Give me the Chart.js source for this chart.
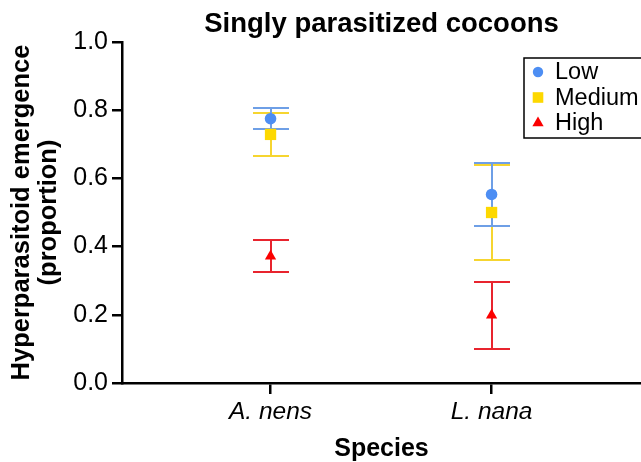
<!DOCTYPE html>
<html>
<head>
<meta charset="utf-8">
<script src="https://cdn.jsdelivr.net/npm/chart.js@4.4.1/dist/chart.umd.min.js"></script>
<style>
  html, body { margin: 0; padding: 0; background: #fff; }
</style>
</head>
<body>
<canvas id="chart" width="641" height="462"></canvas>
<script>
// values (mean and +/- error)
const species = ['A. nens', 'L. nana'];
const lowMean = [0.775, 0.553];
const lowErr = [0.030, 0.093];
const medMean = [0.729, 0.500];
const medErr = [0.064, 0.140];
const highMean = [0.372, 0.199];
const highErr = [0.047, 0.098];

const FONT = "'Liberation Sans', Arial, Helvetica, sans-serif";
Chart.defaults.font.family = FONT;
Chart.defaults.color = '#000';

const toPoints = arr => arr.map((v, i) => ({ x: i, y: v }));

// draws symmetric error bars behind the markers
const errorBars = {
  id: 'errorBars',
  beforeDatasetsDraw(chart, args, opts) {
    const { ctx, scales: { x, y } } = chart;
    ctx.save();
    ctx.lineWidth = 2;
    const half = opts.capWidth / 2;
    // last dataset first so "Low" bars sit on top
    for (let i = chart.data.datasets.length - 1; i >= 0; i--) {
      const ds = chart.data.datasets[i];
      ctx.strokeStyle = ds.errorColor;
      ds.data.forEach((p, j) => {
        const e = ds.errors[j];
        const px = Math.round(x.getPixelForValue(p.x));
        const top = Math.round(y.getPixelForValue(p.y + e));
        const bot = Math.round(y.getPixelForValue(p.y - e));
        ctx.beginPath();
        ctx.moveTo(px, top); ctx.lineTo(px, bot);
        ctx.moveTo(px - half, top); ctx.lineTo(px + half, top);
        ctx.moveTo(px - half, bot); ctx.lineTo(px + half, bot);
        ctx.stroke();
      });
    }
    ctx.restore();
  }
};

function marker(ctx, style, x, y, r) {
  ctx.beginPath();
  if (style === 'circle') {
    ctx.arc(x, y, r, 0, Math.PI * 2);
  } else if (style === 'rect') {
    const s = r * Math.SQRT1_2;
    ctx.rect(x - s, y - s, 2 * s, 2 * s);
  } else {
    ctx.moveTo(x, y - r);
    ctx.lineTo(x + r * 0.866, y + r / 2);
    ctx.lineTo(x - r * 0.866, y + r / 2);
    ctx.closePath();
  }
  ctx.fill();
}

// boxed legend inside the plot, top right
const boxLegend = {
  id: 'boxLegend',
  afterDraw(chart) {
    const { ctx, chartArea } = chart;
    const left = chartArea.right - 117;
    const top = chartArea.top + 16;
    ctx.save();
    ctx.strokeStyle = '#000';
    ctx.lineWidth = 1.5;
    ctx.strokeRect(left, top, 140, 80);
    ctx.font = '23.5px ' + FONT;
    ctx.textBaseline = 'middle';
    chart.data.datasets.forEach((ds, i) => {
      const cy = top + 14 + i * 25.5;
      ctx.fillStyle = ds.backgroundColor;
      marker(ctx, ds.pointStyle, left + 14, cy, ds.legendRadius);
      ctx.fillStyle = '#000';
      ctx.fillText(ds.label, left + 31, cy + 1);
    });
    ctx.restore();
  }
};

new Chart(document.getElementById('chart'), {
  type: 'scatter',
  data: {
    datasets: [
      { label: 'Low', data: toPoints(lowMean), errors: lowErr,
        pointStyle: 'circle', pointRadius: 5.8, legendRadius: 5.2,
        backgroundColor: '#4d8ef3', borderWidth: 0, errorColor: '#6e9fe6' },
      { label: 'Medium', data: toPoints(medMean), errors: medErr,
        pointStyle: 'rect', pointRadius: 8, legendRadius: 7.5,
        backgroundColor: '#fdd800', borderWidth: 0, errorColor: '#f6d530' },
      { label: 'High', data: toPoints(highMean), errors: highErr,
        pointStyle: 'triangle', pointRadius: 6.5, legendRadius: 6.5,
        backgroundColor: '#fb0000', borderWidth: 0, errorColor: '#e8242e' }
    ]
  },
  options: {
    responsive: false,
    animation: false,
    layout: { padding: 0, autoPadding: false },
    scales: {
      x: {
        type: 'linear',
        min: -0.672,
        max: 1.676,
        afterBuildTicks: scale => { scale.ticks = species.map((s, i) => ({ value: i })); },
        afterFit: scale => { scale.height = 79; },
        ticks: {
          callback: v => species[v],
          font: { size: 24.5, style: 'italic' },
          padding: 3,
          maxRotation: 0
        },
        grid: { drawOnChartArea: false, drawTicks: true, tickLength: 11, color: '#000', lineWidth: 2.5 },
        border: { color: '#000', width: 2.5 },
        title: {
          display: true,
          text: 'Species',
          font: { size: 25, weight: 'bold', lineHeight: 1 },
          padding: { top: 0, bottom: 0 }
        }
      },
      y: {
        min: 0,
        max: 1,
        afterFit: scale => { scale.width = 122; },
        ticks: {
          stepSize: 0.2,
          callback: v => v.toFixed(1),
          font: { size: 25 },
          padding: 4
        },
        grid: { drawOnChartArea: false, drawTicks: true, tickLength: 10, color: '#000', lineWidth: 2.5 },
        border: { color: '#000', width: 2.5 },
        title: {
          display: true,
          text: ['Hyperparasitoid emergence', '(proportion)'],
          font: { size: 25.5, weight: 'bold', lineHeight: 1.08 },
          padding: { top: 8, bottom: 0 }
        }
      }
    },
    plugins: {
      legend: { display: false },
      tooltip: { enabled: false },
      title: {
        display: true,
        fullSize: false,
        text: 'Singly parasitized cocoons',
        font: { size: 27.5, weight: 'bold', lineHeight: 1.2 },
        padding: { top: 8, bottom: 1 }
      },
      errorBars: { capWidth: 36 }
    }
  },
  plugins: [errorBars, boxLegend]
});
</script>
</body>
</html>
